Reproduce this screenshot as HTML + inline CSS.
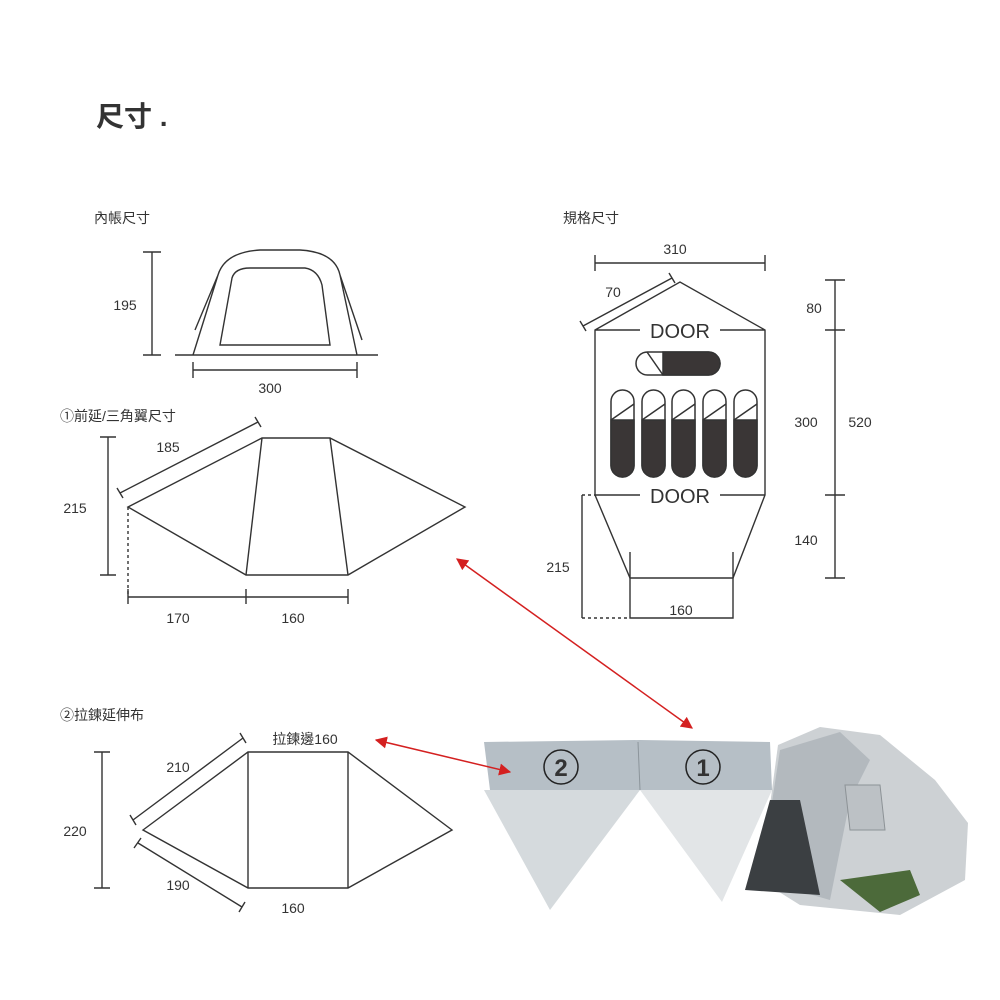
<!DOCTYPE html>
<html><head><meta charset="utf-8"><style>
body{margin:0;background:#fff}
svg{display:block}
text{font-family:"Liberation Sans","Noto Sans CJK TC",sans-serif;fill:#333}
</style></head><body>
<svg width="1000" height="1000" viewBox="0 0 1000 1000" xmlns="http://www.w3.org/2000/svg">
<defs><marker id="ar" viewBox="0 0 10 10" refX="9" refY="5" markerWidth="8" markerHeight="8" orient="auto-start-reverse"><path d="M0,0L10,5L0,10z" fill="#d42020"/></marker></defs>
<text x="96" y="126" font-size="28" font-weight="bold" fill="#222">尺寸 .</text>
<text x="94" y="223" font-size="14">內帳尺寸</text>
<text x="563" y="223" font-size="14">規格尺寸</text>
<g stroke="#333" stroke-width="1.4" fill="none">
<path d="M152,252V355M143,252H161M143,355H161"/>
<path d="M175,355H378M193,355L218,275Q225,252 260,250H300Q335,252 340,275L357,355M195,330L218,275M340,275L362,340"/>
<path d="M220,345L232,278Q235,268 250,268H305Q318,270 322,285L330,345Z"/>
<path d="M193,370H357M193,362V378M357,362V378"/>
<path d="M108,437V575M100,437H116M100,575H116"/>
<path d="M120,493L258,422M117,488L123,498M255,417L261,427"/>
<path d="M128,507L262,438H330L465,507L348,575H246ZM262,438L246,575M330,438L348,575"/>
<path d="M128,507V597" stroke-dasharray="3,3"/>
<path d="M128,597H348M128,589V604M246,589V604M348,589V604"/>
<path d="M595,263H765M595,255V271M765,255V271"/>
<path d="M583,326L672,278M580,321L586,331M669,273L675,283"/>
<path d="M595,330L680,282L765,330V495L733,578H630L595,495ZM595,330H640M720,330H765M595,495H640M720,495H765"/>
<path d="M630,552V618H733V552"/>
<path d="M582,495V618"/>
<path d="M582,495H595M582,618H630" stroke-dasharray="3,3"/>
<path d="M835,280V578M825,280H845M825,330H845M825,495H845M825,578H845"/>
<path d="M102,752V888M94,752H110M94,888H110"/>
<path d="M143,830L248,752H348L452,830L348,888H248ZM248,752V888M348,752V888"/>
<path d="M133,820L243,738M130,815L136,825M240,733L246,743"/>
<path d="M138,843L242,907M134,848L141,838M239,912L245,902"/>
</g>
<g stroke="#333" stroke-width="1.5">
<rect x="636" y="352" width="84" height="23" rx="11.5" fill="#fff"/>
<path d="M663,352H708.5A11.5,11.5 0 0 1 708.5,375H663Z" fill="#3a3636"/>
<path d="M647,352L663,375" fill="none"/>
<g id="b"><rect x="611" y="390" width="23" height="87" rx="11.5" fill="#fff"/><path d="M611,420H634V465.5A11.5,11.5 0 0 1 611,465.5Z" fill="#3a3636"/><path d="M611,420L634,404" fill="none"/></g>
<use href="#b" x="31"/><use href="#b" x="61"/><use href="#b" x="92"/><use href="#b" x="123"/>
</g>
<text x="680" y="338" font-size="20" text-anchor="middle">DOOR</text>
<text x="680" y="503" font-size="20" text-anchor="middle">DOOR</text>
<g font-size="14" text-anchor="middle">
<text x="125" y="310">195</text><text x="270" y="393">300</text>
<text x="75" y="513">215</text><text x="168" y="452">185</text>
<text x="178" y="623">170</text><text x="293" y="623">160</text>
<text x="675" y="254">310</text><text x="613" y="297">70</text>
<text x="814" y="313">80</text><text x="806" y="427">300</text><text x="860" y="427">520</text><text x="806" y="545">140</text>
<text x="558" y="572">215</text><text x="681" y="615">160</text>
<text x="75" y="836">220</text><text x="178" y="772">210</text><text x="178" y="890">190</text>
<text x="305" y="744">拉鍊邊160</text><text x="293" y="913">160</text>
</g>
<text x="60" y="421" font-size="14">①前延/三角翼尺寸</text>
<text x="60" y="720" font-size="14">②拉鍊延伸布</text>
<polygon points="778,745 820,727 880,735 935,780 968,823 965,880 900,915 800,905 760,880" fill="#cdd1d4"/>
<polygon points="780,750 840,732 870,760 850,800 830,900 760,880" fill="#b3b9be"/>
<polygon points="770,800 745,890 820,895 800,800" fill="#3b3f42"/>
<polygon points="840,880 910,870 920,895 880,912" fill="#4c6a3a"/>
<polygon points="845,785 880,785 885,830 850,830" fill="#bcc1c5" stroke="#8c9296"/>
<polygon points="484,742 640,740 770,742 772,790 640,790 490,790" fill="#b6bfc6"/>
<polygon points="484,790 640,790 550,910" fill="#d5dadd"/>
<polygon points="640,790 772,790 722,902" fill="#e2e5e7"/>
<line x1="638" y1="742" x2="640" y2="790" stroke="#8c959b"/>
<circle cx="561" cy="767" r="17" fill="none" stroke="#222" stroke-width="1.5"/>
<circle cx="703" cy="767" r="17" fill="none" stroke="#222" stroke-width="1.5"/>
<text x="561" y="776" font-size="24" text-anchor="middle" font-weight="bold" fill="#333">2</text>
<text x="703" y="776" font-size="24" text-anchor="middle" font-weight="bold" fill="#333">1</text>
<g stroke="#d42020" stroke-width="1.5">
<line x1="457" y1="559" x2="692" y2="728" marker-start="url(#ar)" marker-end="url(#ar)"/>
<line x1="376" y1="740" x2="510" y2="772" marker-start="url(#ar)" marker-end="url(#ar)"/>
</g>
</svg>
</body></html>
